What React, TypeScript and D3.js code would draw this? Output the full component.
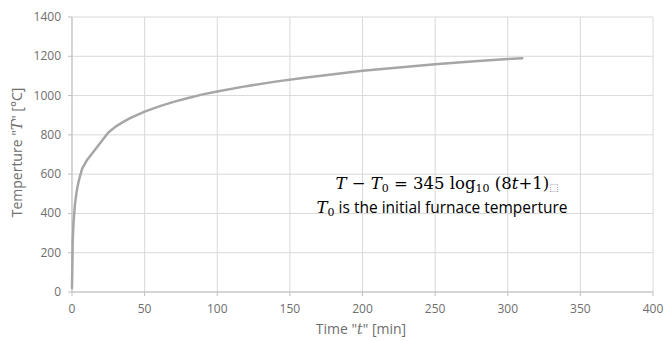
import React from "react";
import * as d3 from "d3";

// Standard fire curve, sampled points (time in minutes, temperature in °C)
const timeMin: number[] = [
  0, 0.5, 1, 2, 3, 4, 5, 7, 10, 25, 30, 35, 40, 45, 50, 60, 70, 80, 90, 100,
  120, 140, 160, 180, 200, 225, 250, 275, 300, 310,
];
const tempC: number[] = [
  20, 261, 349, 444, 502, 544, 576, 628, 668, 812, 842, 865, 885, 902, 918, 945, 968, 988, 1006, 1021,
  1048, 1071, 1091, 1109, 1126, 1143, 1159, 1173, 1186, 1190,
];

const xTicks: number[] = [0, 50, 100, 150, 200, 250, 300, 350, 400];
const yTicks: number[] = [0, 200, 400, 600, 800, 1000, 1200, 1400];

const W = 664;
const H = 341;
const left = 72;
const right = 653;
const top = 17;
const bottom = 292;

const labelFont = "'Open Sans', 'Noto Sans', sans-serif";
const mathFont = "'DejaVu Serif', 'Liberation Serif', serif";

export default function App() {
  const x = d3.scaleLinear().domain([0, 400]).range([left, right]);
  const y = d3.scaleLinear().domain([0, 1400]).range([bottom, top]);
  const pts: [number, number][] = timeMin.map((t, i) => [t, tempC[i]]);
  const line = d3
    .line<[number, number]>()
    .x((d) => x(d[0]))
    .y((d) => y(d[1]));

  return (
    <svg
      width={W}
      height={H}
      style={{ position: "absolute", left: 0, top: 0, background: "#fff" }}
    >
      {/* grid */}
      {yTicks.map((v) => (
        <line key={"gy" + v} x1={left} x2={right} y1={y(v)} y2={y(v)} stroke="#d9d9d9" strokeWidth={1} />
      ))}
      {xTicks.map((v) => (
        <line key={"gx" + v} x1={x(v)} x2={x(v)} y1={top} y2={bottom} stroke="#d9d9d9" strokeWidth={1} />
      ))}
      {/* axes */}
      <line x1={left} x2={right} y1={bottom} y2={bottom} stroke="#bfbfbf" strokeWidth={1} />
      <line x1={left} x2={left} y1={top} y2={bottom} stroke="#bfbfbf" strokeWidth={1} />
      {xTicks.map((v) => (
        <line key={"tx" + v} x1={x(v)} x2={x(v)} y1={bottom} y2={bottom + 4} stroke="#bfbfbf" strokeWidth={1} />
      ))}
      {yTicks.map((v) => (
        <line key={"ty" + v} x1={left - 4} x2={left} y1={y(v)} y2={y(v)} stroke="#bfbfbf" strokeWidth={1} />
      ))}
      {/* tick labels */}
      {yTicks.map((v) => (
        <text key={"ly" + v} x={left - 11} y={y(v) + 4} textAnchor="end" fontFamily={labelFont} fontSize={12} fill="#6e6e6e">
          {v}
        </text>
      ))}
      {xTicks.map((v) => (
        <text key={"lx" + v} x={x(v)} y={bottom + 21} textAnchor="middle" fontFamily={labelFont} fontSize={12} fill="#6e6e6e">
          {v}
        </text>
      ))}
      {/* axis titles */}
      <text
        transform={`translate(22,${(top + bottom) / 2 - 2}) rotate(-90)`}
        textAnchor="middle"
        fontFamily={labelFont}
        fontSize={14}
        fill="#6e6e6e"
      >
        Temperture "<tspan fontFamily={mathFont} fontStyle="italic">T</tspan>" [°C]
      </text>
      <text x={361} y={334} textAnchor="middle" fontFamily={labelFont} fontSize={14} fill="#6e6e6e">
        Time "<tspan fontFamily={mathFont} fontStyle="italic">t</tspan>" [min]
      </text>
      {/* curve */}
      <path d={line(pts) ?? ""} fill="none" stroke="#a6a6a6" strokeWidth={2.5} strokeLinejoin="round" strokeLinecap="round" />
      {/* formula annotation */}
      <text x={447} y={189} textAnchor="middle" fontFamily={mathFont} fontSize={16.5} fill="#000">
        <tspan fontStyle="italic">T</tspan>
        <tspan> − </tspan>
        <tspan fontStyle="italic">T</tspan>
        <tspan fontSize={11} dy={3}>0</tspan>
        <tspan dy={-3}> = 345 log</tspan>
        <tspan fontSize={11} dy={3}>10</tspan>
        <tspan dy={-3}> (8</tspan>
        <tspan fontStyle="italic">t</tspan>
        <tspan>+1)</tspan>
        <tspan fontSize={10} dy={2} fill="#666">⬚</tspan>
      </text>
      <text x={442} y={213} textAnchor="middle" fontFamily={labelFont} fontSize={15.5} fill="#000">
        <tspan fontFamily={mathFont} fontStyle="italic" fontSize={16.5}>T</tspan>
        <tspan fontFamily={mathFont} fontSize={11} dy={3}>0</tspan>
        <tspan dy={-3}> is the initial furnace temperture</tspan>
      </text>
    </svg>
  );
}
